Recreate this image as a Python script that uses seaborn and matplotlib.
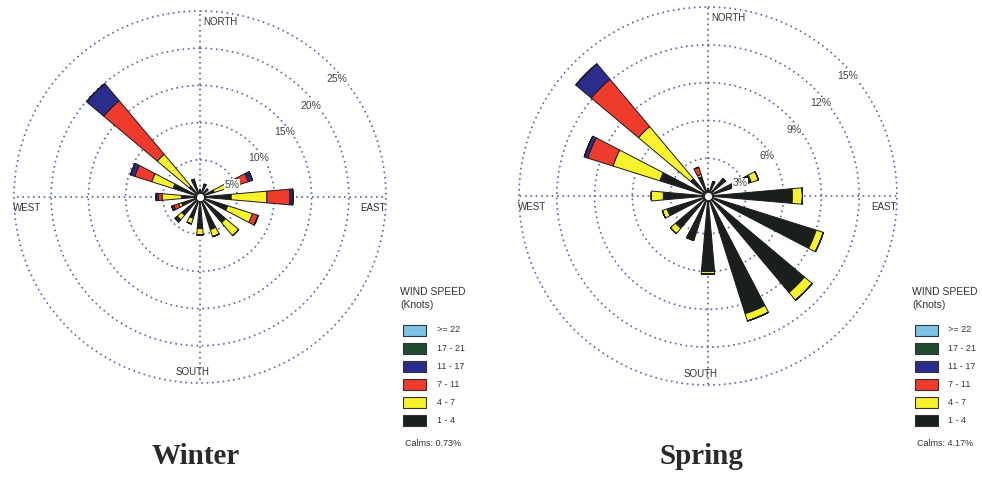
import numpy as np
import seaborn as sns
import matplotlib.pyplot as plt
from matplotlib.patches import Rectangle

# Wind directions (clockwise from north)
directions = ["N", "NNE", "NE", "ENE", "E", "ESE", "SE", "SSE",
              "S", "SSW", "SW", "WSW", "W", "WNW", "NW", "NNW"]

# Frequency (%) per speed class, winter
winter_1_4 = [1.0, 1.8, 1.4, 2.0, 4.2, 3.9, 4.5, 4.6, 4.25, 3.0, 3.2, 2.6, 2.5, 3.8, 1.9, 2.5]
winter_4_7 = [0, 0, 0, 3.5, 4.8, 3.5, 2.3, 1.0, 0.85, 0.8, 0.8, 0.4, 2.6, 3.0, 5.6, 0]
winter_7_11 = [0, 0, 0, 1.3, 3.1, 0.8, 0, 0, 0, 0, 0.15, 0.7, 0.5, 2.4, 9.4, 0]
winter_11_17 = [0, 0, 0, 0.6, 0.4, 0, 0, 0, 0, 0, 0.25, 0.3, 0.3, 0.6, 3.0, 0]
winter_17_21 = [0] * 16
winter_22 = [0] * 16
winter_calms = "Calms: 0.73%"
winter_rings = [5, 10, 15, 20, 25]

# Frequency (%) per speed class, spring
spring_1_4 = [0.6, 1.2, 1.8, 3.6, 6.7, 9.0, 10.0, 9.8, 6.0, 3.7, 3.35, 3.4, 3.55, 4.0, 1.8, 1.6]
spring_4_7 = [0, 0, 0, 0.6, 0.8, 0.6, 0.8, 0.6, 0.2, 0, 0.55, 0.4, 0.95, 3.9, 5.4, 0.2]
spring_7_11 = [0, 0, 0, 0, 0, 0, 0, 0, 0, 0, 0, 0, 0, 2.1, 4.9, 0.6]
spring_11_17 = [0, 0, 0, 0, 0, 0, 0, 0, 0, 0, 0, 0, 0, 0.3, 1.6, 0]
spring_17_21 = [0] * 16
spring_22 = [0] * 16
spring_calms = "Calms: 4.17%"
spring_rings = [3, 6, 9, 12, 15]

speed_labels = ["1 - 4", "4 - 7", "7 - 11", "11 - 17", "17 - 21", ">= 22"]
speed_colors = ["#1b1f1c", "#f6f22c", "#ef3b2c", "#2c2c8c", "#1f4a30", "#7cc4e4"]

sns.set_style("white")
plt.rcParams["font.family"] = ["Liberation Sans", "DejaVu Sans"]

fig = plt.figure(figsize=(9.82, 4.8), dpi=100)


def draw_rose(rect, classes, rings, grid_color="#5a64a8"):
    ax = fig.add_axes(rect, projection="polar")
    ax.set_theta_zero_location("N")
    ax.set_theta_direction(-1)
    theta = np.deg2rad(np.arange(16) * 22.5)
    width = np.deg2rad(10)
    bottom = np.zeros(16)
    for vals, col in zip(classes, speed_colors):
        vals = np.array(vals, dtype=float)
        ax.bar(theta, vals, width=width, bottom=bottom, color=col,
               edgecolor="#1a1a1a", linewidth=0.7, zorder=3)
        bottom += vals
    rmax = rings[-1]
    ax.set_ylim(0, rmax)
    ax.set_rgrids(rings, labels=[""] * len(rings))
    ax.set_thetagrids([0, 90, 180, 270], labels=[""] * 4)
    ax.grid(True, color=grid_color, linestyle=(0, (1, 2.2)), linewidth=1.2)
    for gl in ax.yaxis.get_gridlines() + ax.xaxis.get_gridlines():
        gl.set_clip_on(False)
    ax.spines["polar"].set_visible(False)
    ax.set_facecolor("none")
    # centre hole
    ax.plot([0], [0], "o", ms=6, mfc="white", mec="#222222", mew=0.8, zorder=5)
    # ring labels
    for r in rings:
        ax.annotate(f"{r}%", xy=(np.deg2rad(45), r), xytext=(4, -10),
                    textcoords="offset points", ha="center", va="center",
                    fontsize=7.5, color="#444444", zorder=6,
                    bbox=dict(boxstyle="square,pad=0.05", fc="white", ec="none"))
    kw = dict(textcoords="offset points", fontsize=7, color="#333333", zorder=6)
    ax.annotate("NORTH", xy=(0, rmax), xytext=(2, -4), ha="left", va="top", **kw)
    ax.annotate("EAST", xy=(np.pi / 2, rmax), xytext=(0, -4), ha="right", va="top", **kw)
    ax.annotate("SOUTH", xy=(np.pi, rmax), xytext=(-5, 4), ha="center", va="bottom", **kw)
    ax.annotate("WEST", xy=(1.5 * np.pi, rmax), xytext=(-1, -4), ha="left", va="top", **kw)
    return ax


draw_rose([0.01426, 0.2021, 0.3788, 0.775],
          [winter_1_4, winter_4_7, winter_7_11, winter_11_17, winter_17_21, winter_22],
          winter_rings)
draw_rose([0.5285, 0.1979, 0.3849, 0.7875],
          [spring_1_4, spring_4_7, spring_7_11, spring_11_17, spring_17_21, spring_22],
          spring_rings)

# overlay for legends and titles (pixel coordinates)
ov = fig.add_axes([0, 0, 1, 1])
ov.set_xlim(0, 982)
ov.set_ylim(480, 0)
ov.axis("off")
ov.set_facecolor("none")


def draw_legend(x0, box_x, label_x, calms):
    ov.text(x0, 292, "WIND SPEED", fontsize=7.5, color="#333333", va="center", ha="left")
    ov.text(x0, 305, "(Knots)", fontsize=7.5, color="#333333", va="center", ha="left")
    for i, (lab, col) in enumerate(zip(speed_labels[::-1], speed_colors[::-1])):
        yc = 330 + 18.1 * i
        ov.add_patch(Rectangle((box_x, yc - 5.5), 23, 11, facecolor=col,
                               edgecolor="#333333", linewidth=0.8))
        ov.text(label_x, yc, lab, fontsize=6.5, color="#333333", va="center", ha="left")
    ov.text(box_x + 2, 443, calms, fontsize=6.5, color="#333333", va="center", ha="left")


draw_legend(400, 403, 437, winter_calms)
draw_legend(912, 915, 948, spring_calms)

title_kw = dict(fontsize=21, fontweight="bold", family=["Liberation Serif", "DejaVu Serif"],
                color="#2a2a2a", ha="center", va="center")
ov.text(196, 456, "Winter", **title_kw)
ov.text(701, 456, "Spring", **title_kw)

fig.savefig("out.png", dpi=100, facecolor="white")
